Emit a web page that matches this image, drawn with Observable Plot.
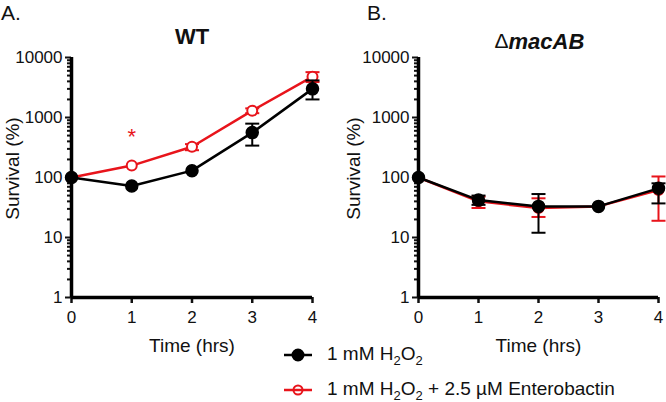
<!DOCTYPE html>
<html><head><meta charset="utf-8">
<script src="https://cdn.jsdelivr.net/npm/d3@7"></script>
<script src="https://cdn.jsdelivr.net/npm/@observablehq/plot@0.6"></script>
<style>
html,body{margin:0;padding:0;background:#fff;}
#wrap{position:relative;width:666px;height:402px;font-family:"Liberation Sans",Arial,sans-serif;overflow:hidden;}
.pnl{position:absolute;top:0;}
.plab{position:absolute;font-size:21px;color:#111;}
#legend{position:absolute;left:283px;top:340px;font-size:19px;color:#111;}
.row{position:absolute;left:0;white-space:nowrap;height:24px;display:flex;align-items:center;}
.row svg{margin-right:14px;}
sub{font-size:13px;vertical-align:-5px;}
</style></head>
<body><div id="wrap"></div>
<script>
const hours = [0, 1, 2, 3, 4];
const majorTicks = [1, 10, 100, 1000, 10000];
const minorTicks = [2,3,4,5,6,7,8,9,20,30,40,50,60,70,80,90,200,300,400,500,600,700,800,900,2000,3000,4000,5000,6000,7000,8000,9000];
const seriesNames = ["1 mM H2O2", "1 mM H2O2 + 2.5 µM Enterobactin"];
const seriesColors = ["#000000", "#e8141b"];

// Panel A: WT
const wtH2O2    = [100, 72, 130, 560, 3000];
const wtH2O2Lo  = [null, null, null, 340, 2000];
const wtH2O2Hi  = [null, null, null, 790, 4150];
const wtEnt     = [100, 158, 325, 1300, 4800];
const wtEntLo   = [null, null, 285, 1180, 3900];
const wtEntHi   = [null, null, 360, 1420, 5700];
const sigHours  = [1];
const sigValues = [470];

// Panel B: ΔmacAB
const macH2O2   = [100, 42, 33, 33, 66];
const macH2O2Lo = [null, 35, 12, null, 37];
const macH2O2Hi = [null, 50, 53, null, 80];
const macEnt    = [100, 40, 31, 33, 62];
const macEntLo  = [null, 31, 22, null, 19];
const macEntHi  = [null, 48, 45, null, 104];

function rows(vals, lo, hi) {
  return hours.map((h, i) => ({t: h, v: vals[i], lo: lo[i], hi: hi[i]}));
}
const cap = {draw(ctx, size) { const r = 7; ctx.moveTo(-r, 0); ctx.lineTo(r, 0); }};
const FONT = '"Liberation Sans", Arial, sans-serif';

function seriesMarks(data, color, filled) {
  const err = data.filter(d => d.lo != null);
  return [
    Plot.ruleX(err, {x: "t", y1: "lo", y2: "hi", stroke: color, strokeWidth: 2}),
    Plot.dot(err, {x: "t", y: "lo", symbol: cap, stroke: color, strokeWidth: 2, fill: "none", r: 4}),
    Plot.dot(err, {x: "t", y: "hi", symbol: cap, stroke: color, strokeWidth: 2, fill: "none", r: 4}),
    Plot.line(data, {x: "t", y: "v", stroke: color, strokeWidth: 2.5}),
    filled
      ? Plot.dot(data, {x: "t", y: "v", r: 6, fill: color, stroke: color})
      : Plot.dot(data, {x: "t", y: "v", r: 5, fill: "white", stroke: color, strokeWidth: 2})
  ];
}

function panel(opts) {
  return Plot.plot({
    width: opts.width, height: 360,
    marginLeft: opts.ml, marginRight: opts.mr, marginTop: 57, marginBottom: 63,
    style: {fontFamily: FONT, fontSize: "17px", color: "#111", background: "transparent", overflow: "visible"},
    x: {domain: [0, 4]},
    y: {type: "log", domain: [1, 10000]},
    marks: [
      Plot.axisY(minorTicks, {tickSize: 4, tickFormat: () => "", strokeWidth: 2}),
      Plot.axisY(majorTicks, {tickSize: 6, tickPadding: 3, tickFormat: d => String(d), strokeWidth: 2, fontSize: 17, label: null}),
      Plot.axisX(hours, {tickSize: 6, tickPadding: 7, tickFormat: d => String(d), strokeWidth: 2.5, fontSize: 17, label: null}),
      Plot.ruleX([0], {stroke: "#000", strokeWidth: 3.5}),
      Plot.ruleY([1], {stroke: "#000", strokeWidth: 3.5}),
      ...opts.marks,
      Plot.text(["Survival (%)"], {frameAnchor: "left", textAnchor: "middle", lineAnchor: "middle", dx: opts.ylabDx, dy: -9, rotate: -90, fontSize: 19, fill: "#111"}),
      Plot.text(["Time (hrs)"], {frameAnchor: "bottom", lineAnchor: "middle", dy: 48, fontSize: 19, fill: "#111"}),
      ...opts.title
    ]
  });
}

const wrap = document.getElementById("wrap");

const pA = panel({
  width: 340, ml: 71, mr: 28, ylabDx: -59,
  marks: [
    ...seriesMarks(rows(wtEnt, wtEntLo, wtEntHi), seriesColors[1], false),
    ...seriesMarks(rows(wtH2O2, wtH2O2Lo, wtH2O2Hi), seriesColors[0], true),
    Plot.text(sigHours.map((h, i) => ({t: h, v: sigValues[i]})), {x: "t", y: "v", text: () => "*", fill: seriesColors[1], fontSize: 22})
  ],
  title: [Plot.text(["WT"], {frameAnchor: "top", lineAnchor: "middle", dy: -21, fontSize: 22, fontWeight: "bold", fill: "#111"})]
});
pA.classList.add("pnl"); pA.style.left = "0px";
wrap.appendChild(pA);

const pB = panel({
  width: 326, ml: 78, mr: 8, ylabDx: -65,
  marks: [
    ...seriesMarks(rows(macEnt, macEntLo, macEntHi), seriesColors[1], false),
    ...seriesMarks(rows(macH2O2, macH2O2Lo, macH2O2Hi), seriesColors[0], true)
  ],
  title: [
    Plot.text(["Δ"], {frameAnchor: "top", lineAnchor: "middle", dx: -30, dy: -16, textAnchor: "end", fontSize: 21, fill: "#111"}),
    Plot.text(["macAB"], {frameAnchor: "top", lineAnchor: "middle", dx: -30, dy: -16, textAnchor: "start", fontSize: 22, fontWeight: "bold", fontStyle: "italic", fill: "#111"})
  ]
});
pB.classList.add("pnl"); pB.style.left = "340px";
wrap.appendChild(pB);

// panel letters
[["A.", 1], ["B.", 367]].forEach(([t, x]) => {
  const d = document.createElement("div");
  d.className = "plab"; d.textContent = t; d.style.left = x + "px"; d.style.top = "1px";
  wrap.appendChild(d);
});

// legend
const leg = document.createElement("div"); leg.id = "legend";
const labelsHTML = ["1 mM H<sub>2</sub>O<sub>2</sub>", "1 mM H<sub>2</sub>O<sub>2</sub> + 2.5 µM Enterobactin"];
seriesColors.forEach((c, i) => {
  const r = document.createElement("div"); r.className = "row"; r.style.top = (i * 35 + 3) + "px";
  const filled = i === 0;
  r.innerHTML = `<svg width="30" height="14"><line x1="1" y1="7" x2="29" y2="7" stroke="${c}" stroke-width="2.5"/>` +
    `<circle cx="15" cy="7" r="${filled ? 5.5 : 4.5}" fill="${filled ? c : "none"}" stroke="${c}" stroke-width="2"/></svg>` +
    `<span>${labelsHTML[i]}</span>`;
  r.title = seriesNames[i];
  leg.appendChild(r);
});
wrap.appendChild(leg);
</script></body></html>
